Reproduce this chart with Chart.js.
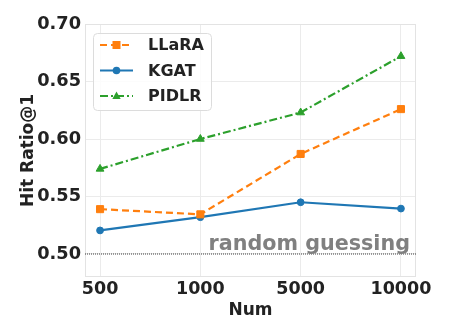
<!DOCTYPE html>
<html lang="en">
<head>
    <meta charset="UTF-8">
    <title>Hit Ratio@1 vs Num</title>
    <script src="https://cdn.jsdelivr.net/npm/chart.js"></script>
    <style>
        body { margin: 0; background: #fff; }
        #wrap { width: 449px; height: 336px; }
    </style>
</head>
<body>
    <div id="wrap"><canvas id="hitChart" width="449" height="336"></canvas></div>

    <script>
        // data
        var nums = ['500', '1000', '5000', '10000'];
        var llara = [0.539, 0.5345, 0.587, 0.626];
        var kgat = [0.5205, 0.532, 0.545, 0.5395];
        var pidlr = [0.574, 0.600, 0.623, 0.672];
        var yTicks = [0.50, 0.55, 0.60, 0.65, 0.70];
        var randomLevel = 0.50;
        var randomLabel = 'random guessing';

        var FONT = "'DejaVu Sans', sans-serif";

        function toPoints(arr) {
            return arr.map(function (v, i) { return { x: i, y: v }; });
        }

        // frame, reference line and the legend inside the plot
        var extras = {
            id: 'extras',
            beforeDatasetsDraw: function (chart) {
                var ctx = chart.ctx, a = chart.chartArea;
                var y = chart.scales.y.getPixelForValue(randomLevel);
                ctx.save();
                ctx.strokeStyle = '#e3e3e3';
                ctx.lineWidth = 1;
                ctx.strokeRect(a.left + 0.5, a.top + 0.5, a.right - a.left - 1, a.bottom - a.top - 1);
                ctx.strokeStyle = '#111';
                ctx.lineWidth = 0.8;
                ctx.setLineDash([1, 1]);
                ctx.beginPath();
                ctx.moveTo(a.left, y);
                ctx.lineTo(a.right, y);
                ctx.stroke();
                ctx.setLineDash([]);
                ctx.fillStyle = '#808080';
                ctx.font = 'bold 20.7px ' + FONT;
                ctx.textAlign = 'right';
                ctx.textBaseline = 'alphabetic';
                ctx.fillText(randomLabel, a.right - 6, y - 4);
                ctx.restore();
            },
            afterDraw: function (chart) {
                var ctx = chart.ctx, a = chart.chartArea;
                var bx = a.left + 8, by = a.top + 9, bw = 118, bh = 77;
                ctx.save();
                ctx.fillStyle = 'rgba(255,255,255,0.85)';
                ctx.strokeStyle = '#dcdcdc';
                ctx.lineWidth = 1;
                ctx.beginPath();
                ctx.roundRect(bx + 0.5, by + 0.5, bw, bh, 4);
                ctx.fill();
                ctx.stroke();
                chart.data.datasets.forEach(function (ds, i) {
                    var cy = by + 12 + i * 25.5;
                    var x0 = bx + 7, x1 = bx + 40, cx = (x0 + x1) / 2;
                    ctx.strokeStyle = ds.borderColor;
                    ctx.lineWidth = ds.borderWidth;
                    ctx.setLineDash(ds.borderDash || []);
                    ctx.beginPath();
                    ctx.moveTo(x0, cy);
                    ctx.lineTo(x1, cy);
                    ctx.stroke();
                    ctx.setLineDash([]);
                    ctx.fillStyle = ds.pointBackgroundColor;
                    ctx.beginPath();
                    if (ds.pointStyle === 'rect') {
                        ctx.rect(cx - 4, cy - 4, 8, 8);
                    } else if (ds.pointStyle === 'triangle') {
                        ctx.moveTo(cx, cy - 4.5);
                        ctx.lineTo(cx + 4.2, cy + 3);
                        ctx.lineTo(cx - 4.2, cy + 3);
                        ctx.closePath();
                    } else {
                        ctx.arc(cx, cy, 3.8, 0, Math.PI * 2);
                    }
                    ctx.fill();
                    ctx.fillStyle = '#222';
                    ctx.font = 'bold 16px ' + FONT;
                    ctx.textAlign = 'left';
                    ctx.textBaseline = 'middle';
                    ctx.fillText(ds.label, bx + 55, cy + 1);
                });
                ctx.restore();
            }
        };

        new Chart(document.getElementById('hitChart'), {
            type: 'line',
            data: {
                datasets: [{
                    label: 'LLaRA',
                    data: toPoints(llara),
                    borderColor: '#ff7f0e',
                    backgroundColor: '#ff7f0e',
                    pointBackgroundColor: '#ff7f0e',
                    pointBorderColor: '#ff7f0e',
                    borderWidth: 2.2,
                    borderDash: [7, 4],
                    pointStyle: 'rect',
                    pointRadius: 5,
                    pointBorderWidth: 1
                }, {
                    label: 'KGAT',
                    data: toPoints(kgat),
                    borderColor: '#1f77b4',
                    backgroundColor: '#1f77b4',
                    pointBackgroundColor: '#1f77b4',
                    pointBorderColor: '#1f77b4',
                    borderWidth: 2.2,
                    pointStyle: 'circle',
                    pointRadius: 3.4,
                    pointBorderWidth: 1
                }, {
                    label: 'PIDLR',
                    data: toPoints(pidlr),
                    borderColor: '#2ca02c',
                    backgroundColor: '#2ca02c',
                    pointBackgroundColor: '#2ca02c',
                    pointBorderColor: '#2ca02c',
                    borderWidth: 2.2,
                    borderDash: [8, 3, 2, 3],
                    pointStyle: 'triangle',
                    pointRadius: 4.5,
                    pointBorderWidth: 1
                }]
            },
            options: {
                responsive: false,
                animation: false,
                layout: { padding: { top: 24, right: 33, bottom: 14, left: 14 } },
                plugins: { legend: { display: false }, tooltip: { enabled: false } },
                scales: {
                    x: {
                        type: 'linear',
                        min: -0.15,
                        max: 3.15,
                        afterBuildTicks: function (s) {
                            s.ticks = nums.map(function (n, i) { return { value: i }; });
                        },
                        afterFit: function (s) { s.height = 45; },
                        ticks: {
                            callback: function (v) { return nums[v]; },
                            color: '#222',
                            font: { family: FONT, size: 17.5, weight: 'bold' },
                            padding: 2,
                            maxRotation: 0
                        },
                        grid: { color: '#ebebeb', drawTicks: false },
                        border: { display: false },
                        title: {
                            display: true,
                            text: 'Num',
                            color: '#222',
                            font: { family: FONT, size: 17, weight: 'bold' },
                            padding: { top: 0, bottom: 1 }
                        }
                    },
                    y: {
                        min: 0.48,
                        max: 0.70,
                        afterBuildTicks: function (s) {
                            s.ticks = yTicks.map(function (v) { return { value: v }; });
                        },
                        afterFit: function (s) { s.width = 71; },
                        ticks: {
                            callback: function (v) { return v.toFixed(2); },
                            color: '#222',
                            font: { family: FONT, size: 17.8, weight: 'bold' },
                            padding: 4
                        },
                        grid: { color: '#ebebeb', drawTicks: false },
                        border: { display: false },
                        title: {
                            display: true,
                            text: 'Hit Ratio@1',
                            color: '#222',
                            font: { family: FONT, size: 17, weight: 'bold' },
                            padding: { top: 4, bottom: 0 }
                        }
                    }
                }
            },
            plugins: [extras]
        });
    </script>
</body>
</html>
